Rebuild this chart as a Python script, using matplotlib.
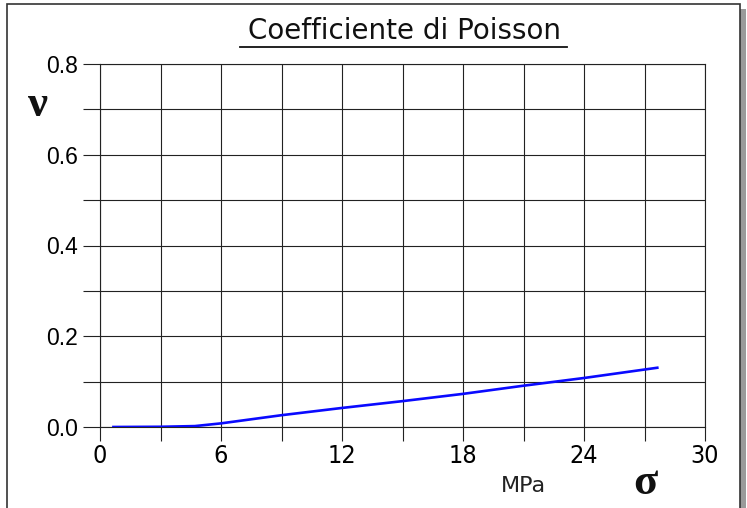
import matplotlib
matplotlib.use("Agg")
import matplotlib.pyplot as plt
from matplotlib.patches import Rectangle
from matplotlib.lines import Line2D
import numpy as np

# data
sigma = [0.6, 3.0, 4.7, 6.0, 9.0, 12.0, 15.0, 18.0, 21.0, 24.0, 27.7]
nu    = [0.0, 0.0005, 0.002, 0.008, 0.026, 0.042, 0.057, 0.073, 0.091, 0.108, 0.131]
xticks = [0, 6, 12, 18, 24, 30]
yticks = [0.0, 0.2, 0.4, 0.6, 0.8]
title = "Coefficiente di Poisson"

W, H = 747, 508
fig = plt.figure(figsize=(W/100, H/100), dpi=100)

# frame with shadow
fig.patches.append(Rectangle((11/W, 0), (746-11)/W, (H-9)/H, transform=fig.transFigure,
                             facecolor="#9a9a9a", edgecolor="none", zorder=-2))
fig.patches.append(Rectangle((7/W, -0.02), (740-7)/W, (H-4)/H + 0.02, transform=fig.transFigure,
                             facecolor="white", edgecolor="#333333", linewidth=1.2, zorder=-1))

ax = fig.add_axes([100/W, (H-427)/H, (705-100)/W, (427-64)/H])
ax.plot(sigma, nu, color="#0a0aff", linewidth=1.9, solid_capstyle="butt", zorder=3)
ax.set_xlim(0, 30)
ax.set_ylim(0, 0.8)
xt = np.arange(0, 31, 3)
ax.set_xticks(xt)
ax.set_xticklabels([str(t) if t in xticks else "" for t in xt])
yt = np.round(np.arange(0, 0.81, 0.1), 1)
ax.set_yticks(yt)
ax.set_yticklabels([f"{t:.1f}" if any(abs(t - y) < 1e-9 for y in yticks) else "" for t in yt])
ax.grid(True, color="#222222", linewidth=0.8)
for s in ax.spines.values():
    s.set_color("#222222")
    s.set_linewidth(0.8)
ax.tick_params(axis="y", direction="out", length=12, width=0.8, color="#222222",
               labelsize=16.5, pad=4, labelfontfamily="Liberation Sans")
ax.tick_params(axis="x", direction="out", length=10, width=0.8, color="#222222",
               labelsize=18, pad=2, labelfontfamily="DejaVu Sans")
for lab in ax.get_xticklabels():
    lab.set_fontstretch("condensed")
ax.set_axisbelow(True)

# title with underline
fig.text(405/W, 1 - 31/H, title, ha="center", va="center", fontsize=20,
         family="DejaVu Sans", color="#111111")
fig.add_artist(Line2D([240/W, 567/W], [1 - 47/H, 1 - 47/H], transform=fig.transFigure,
                      color="#111111", linewidth=1.3))

fig.text(523/W, 1 - 486/H, "MPa", ha="center", va="center", fontsize=16,
         family="DejaVu Sans", color="#222222")
fig.text(645/W, 1 - 483/H, "σ", ha="center", va="center", fontsize=32,
         family="Liberation Serif", weight="bold", color="#111111")
fig.text(38/W, 1 - 105/H, "ν", ha="center", va="center", fontsize=32,
         family="Liberation Serif", weight="bold", color="#111111")

fig.savefig("out.png", dpi=100)
